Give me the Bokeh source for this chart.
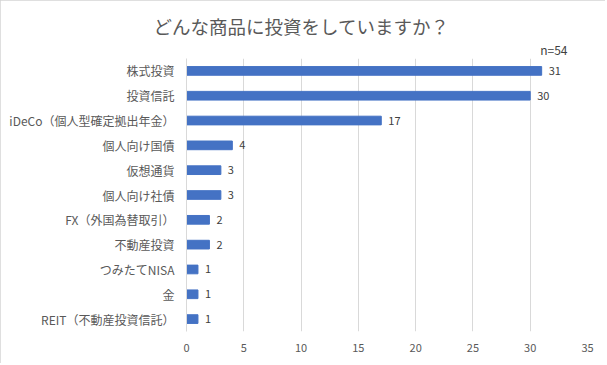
from bokeh.plotting import figure
from bokeh.models import ColumnDataSource, Title, FactorRange
from bokeh.core.properties import value
from bokeh.embed import file_html
from bokeh.resources import INLINE

title_text = "どんな商品に投資をしていますか？"
n_text = "n=54"
categories = ["株式投資", "投資信託", "iDeCo（個人型確定拠出年金）", "個人向け国債", "仮想通貨",
              "個人向け社債", "FX（外国為替取引）", "不動産投資", "つみたてNISA", "金",
              "REIT（不動産投資信託）"]
counts = [31, 30, 17, 4, 3, 3, 2, 2, 1, 1, 1]
x_ticks = [0, 5, 10, 15, 20, 25, 30, 35]

FONT = "Noto Sans CJK JP"
GRAY = "#595959"

src = ColumnDataSource(data=dict(cat=categories, val=counts, lab=[str(v) for v in counts]))

p = figure(width=605, height=363, output_backend="svg", toolbar_location=None,
           y_range=FactorRange(factors=list(reversed(categories))),
           x_range=(0, 35),
           min_border_left=186, min_border_right=18, min_border_top=58, min_border_bottom=32)
p.outline_line_color = None
p.background_fill_color = "white"
p.border_fill_color = "white"
p.styles = {"outline": "1px solid #d4d4d4", "outline-offset": "-1px"}

p.hbar(y="cat", right="val", left=0, height=0.35, color="#4472C4", source=src)
p.text(x="val", y="cat", text="lab", source=src, x_offset=7, text_baseline="middle",
       text_align="left", text_font=value(FONT), text_font_size="11px", text_color="#404040")

p.xaxis.ticker = x_ticks
p.xaxis.axis_line_color = None
p.xaxis.major_tick_line_color = None
p.xaxis.minor_tick_line_color = None
p.xaxis.major_label_standoff = 6
p.xaxis.major_label_text_font = FONT
p.xaxis.major_label_text_font_size = "11px"
p.xaxis.major_label_text_color = GRAY

p.yaxis.axis_line_color = "#d9d9d9"
p.yaxis.major_tick_line_color = None
p.yaxis.minor_tick_line_color = None
p.yaxis.major_label_standoff = 6
p.yaxis.major_label_text_font = FONT
p.yaxis.major_label_text_font_size = "12px"
p.yaxis.major_label_text_color = GRAY

p.xgrid.grid_line_color = "#d9d9d9"
p.ygrid.grid_line_color = None

# sample-size note sits just above the frame, main title above it
p.add_layout(Title(text=n_text, align="right", offset=20, standoff=1, text_line_height=0.8,
                   text_font=FONT, text_font_size="12px", text_font_style="normal",
                   text_color="#404040"), "above")
p.title.text = title_text
p.title.align = "left"
p.title.offset = -33
p.title.standoff = 0
p.title.text_font = FONT
p.title.text_font_size = "18.5px"
p.title.text_font_style = "normal"
p.title.text_color = GRAY

open("out.html", "w").write(file_html(p, INLINE))
